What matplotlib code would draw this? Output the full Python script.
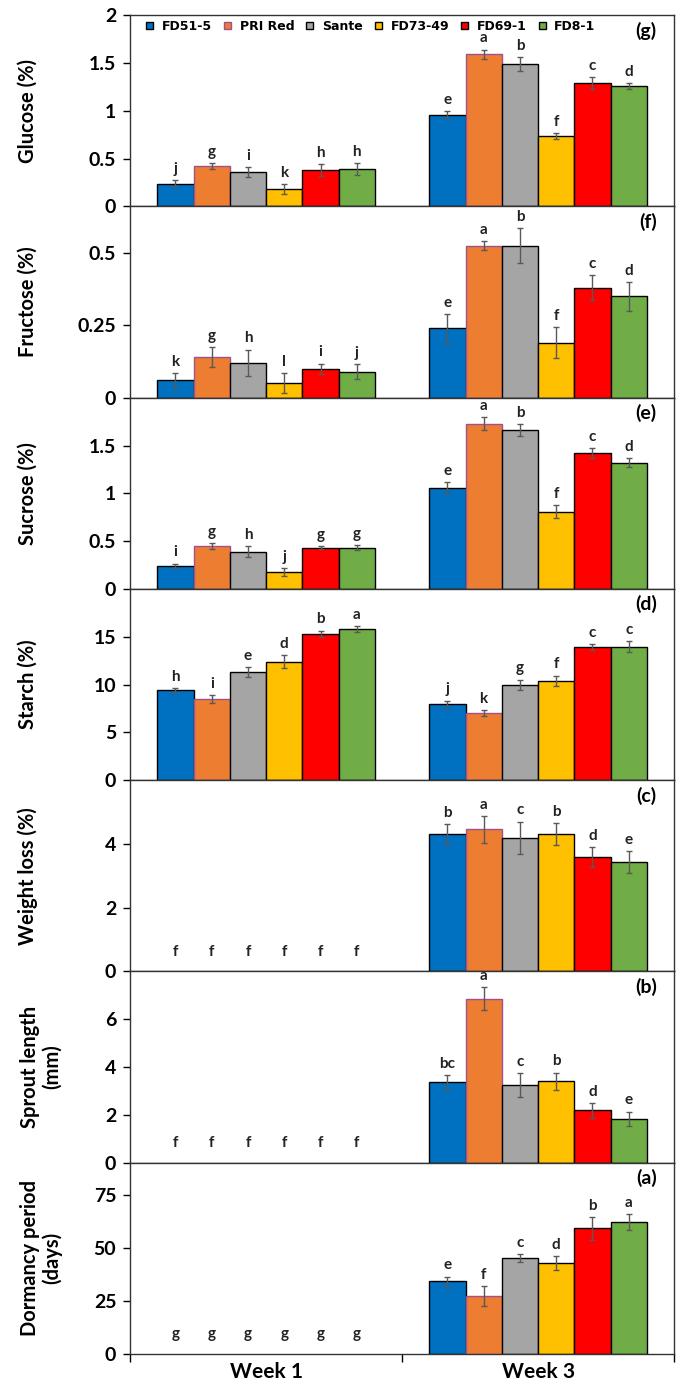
import numpy as np
import matplotlib
matplotlib.use("Agg")
import matplotlib.pyplot as plt

plt.rcParams['font.family'] = ['Lato', 'DejaVu Sans']

cultivars = ["FD51-5", "PRI Red", "Sante", "FD73-49", "FD69-1", "FD8-1"]
weeks = ["Week 1", "Week 3"]
colors = ["#0070C0", "#ED7D31", "#A5A5A5", "#FFC000", "#FF0000", "#70AD47"]
edges = ["black", "#A0508C", "black", "black", "black", "black"]

# rows = week 1, week 3 ; columns = cultivars
glucose = [[0.24, 0.42, 0.36, 0.18, 0.38, 0.39],
           [0.96, 1.59, 1.49, 0.74, 1.29, 1.26]]
glucose_err = [[0.04, 0.03, 0.05, 0.05, 0.06, 0.06],
               [0.04, 0.05, 0.07, 0.03, 0.06, 0.03]]
glucose_let = [["j", "g", "i", "k", "h", "h"],
               ["e", "a", "b", "f", "c", "d"]]

fructose = [[0.06, 0.14, 0.12, 0.05, 0.10, 0.09],
            [0.24, 0.525, 0.525, 0.19, 0.38, 0.35]]
fructose_err = [[0.026, 0.035, 0.046, 0.034, 0.018, 0.025],
                [0.05, 0.016, 0.06, 0.053, 0.044, 0.05]]
fructose_let = [["k", "g", "h", "l", "i", "j"],
                ["e", "a", "b", "f", "c", "d"]]

sucrose = [[0.24, 0.45, 0.39, 0.18, 0.43, 0.43],
           [1.06, 1.73, 1.66, 0.81, 1.42, 1.32]]
sucrose_err = [[0.025, 0.028, 0.055, 0.04, 0.017, 0.025],
               [0.055, 0.07, 0.063, 0.066, 0.052, 0.049]]
sucrose_let = [["i", "g", "h", "j", "g", "g"],
               ["e", "a", "b", "f", "c", "d"]]

starch = [[9.4, 8.5, 11.3, 12.4, 15.3, 15.8],
          [7.95, 7.0, 10.0, 10.4, 13.96, 13.96]]
starch_err = [[0.25, 0.38, 0.52, 0.7, 0.35, 0.28],
              [0.38, 0.3, 0.52, 0.55, 0.3, 0.55]]
starch_let = [["h", "i", "e", "d", "b", "a"],
              ["j", "k", "g", "f", "c", "c"]]

weight = [[0, 0, 0, 0, 0, 0],
          [4.31, 4.46, 4.2, 4.31, 3.59, 3.43]]
weight_err = [[0, 0, 0, 0, 0, 0],
              [0.31, 0.42, 0.5, 0.35, 0.32, 0.34]]
weight_let = [["f", "f", "f", "f", "f", "f"],
              ["b", "a", "c", "b", "d", "e"]]

sprout = [[0, 0, 0, 0, 0, 0],
          [3.37, 6.86, 3.26, 3.41, 2.19, 1.84]]
sprout_err = [[0, 0, 0, 0, 0, 0],
              [0.3, 0.47, 0.5, 0.36, 0.3, 0.3]]
sprout_let = [["f", "f", "f", "f", "f", "f"],
              ["bc", "a", "c", "b", "d", "e"]]

dormancy = [[0, 0, 0, 0, 0, 0],
            [34.2, 27.1, 45.0, 42.7, 59.1, 62.0]]
dormancy_err = [[0, 0, 0, 0, 0, 0],
                [2.2, 4.7, 1.9, 3.4, 5.3, 3.7]]
dormancy_let = [["g", "g", "g", "g", "g", "g"],
                ["e", "f", "c", "d", "b", "a"]]

panels = [
    ("Glucose (%)", "(g)", glucose, glucose_err, glucose_let, 2, [0, 0.5, 1, 1.5, 2]),
    ("Fructose (%)", "(f)", fructose, fructose_err, fructose_let, 0.66, [0, 0.25, 0.5]),
    ("Sucrose (%)", "(e)", sucrose, sucrose_err, sucrose_let, 2, [0, 0.5, 1, 1.5]),
    ("Starch (%)", "(d)", starch, starch_err, starch_let, 20, [0, 5, 10, 15]),
    ("Weight loss (%)", "(c)", weight, weight_err, weight_let, 6, [0, 2, 4]),
    ("Sprout length\n(mm)", "(b)", sprout, sprout_err, sprout_let, 8, [0, 2, 4, 6]),
    ("Dormancy period\n(days)", "(a)", dormancy, dormancy_err, dormancy_let, 90, [0, 25, 50, 75]),
]

fig, axes = plt.subplots(7, 1, figsize=(6.85, 13.84), dpi=100, sharex=True)
plt.subplots_adjust(left=0.19, right=0.984, top=0.989, bottom=0.0217, hspace=0)

x = np.arange(len(weeks))
width = 0.8 / len(cultivars)

for k, (ax, (ylabel, tag, vals, errs, lets, ymax, yticks)) in enumerate(zip(axes, panels)):
    vals = np.array(vals)
    errs = np.array(errs)
    for i in range(len(cultivars)):
        xs = x + (i - 2.5) * width
        keep = vals[:, i] > 0
        ax.bar(xs[keep], vals[keep, i], width, color=colors[i], edgecolor=edges[i],
               linewidth=1, label=cultivars[i], zorder=2)
        ax.errorbar(xs[keep], vals[keep, i], yerr=errs[keep, i], fmt='none',
                    ecolor='#595959', elinewidth=1, capsize=2.5, capthick=1, zorder=3)
        for j in range(len(weeks)):
            top = vals[j, i] + errs[j, i]
            off = 3 if vals[j, i] > 0 else 9
            ax.annotate(lets[j][i], (xs[j], top), xytext=(0, off),
                        textcoords='offset points', ha='center', va='bottom',
                        fontsize=11, fontweight='bold', color='#222222')
    ax.set_ylim(0, ymax)
    ax.set_yticks(yticks)
    ax.set_yticklabels(['{:g}'.format(t) for t in yticks])
    ax.set_xlim(-0.5, 1.5)
    ax.tick_params(axis='y', direction='out', length=5, width=1, pad=5,
                   labelsize=14)
    for lab in ax.get_yticklabels():
        lab.set_fontweight('bold')
    for s in ax.spines.values():
        s.set_linewidth(1)
        s.set_color('#333333')
    ax.set_ylabel(ylabel, fontsize=14.5, fontweight='bold', va='center',
                  ha='center', multialignment='center', linespacing=1.1)
    if '\n' in ylabel:
        ax.yaxis.set_label_coords(-0.164, 0.5)
    else:
        ax.yaxis.set_label_coords(-0.1875, 0.5)
    ax.text(0.968, 0.92, tag, transform=ax.transAxes, ha='right', va='center',
            fontsize=14, fontweight='bold')

axes[0].legend(loc='upper left', bbox_to_anchor=(0.03, 0.975), ncol=6,
               frameon=False, handlelength=0.56, handleheight=0.56,
               handletextpad=0.7, columnspacing=0.95, borderaxespad=0, borderpad=0,
               prop={'family': 'DejaVu Sans', 'weight': 'bold', 'size': 9})

bottom = axes[-1]
bottom.set_xticks([-0.5, 0.5, 1.5])
bottom.set_xticklabels([])
bottom.set_xticks(x, minor=True)
bottom.set_xticklabels(weeks, minor=True, fontsize=15, fontweight='bold')
bottom.tick_params(axis='x', which='major', direction='out', length=6, width=1)
bottom.tick_params(axis='x', which='minor', length=0, pad=6)
for ax in axes[:-1]:
    ax.tick_params(axis='x', which='both', length=0, labelbottom=False)

fig.savefig("out.png", dpi=100)
